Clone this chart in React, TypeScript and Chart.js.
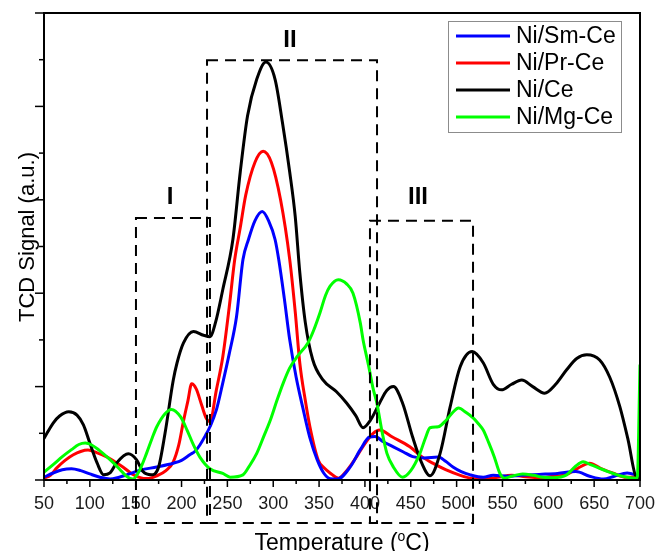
import React, { useEffect, useRef } from "react";
import { Chart, registerables } from "chart.js";

Chart.register(...registerables);

// ---------- data (temperature °C, TCD signal a.u.) ----------
const smT = [50, 60, 70, 80, 90, 100, 111, 122, 132, 140, 155, 173, 191, 200, 209, 215, 220, 226, 231, 238, 245, 252, 260, 267, 273, 280, 288, 295, 302, 306, 312, 318, 325, 332, 340, 348, 355, 362, 370, 384, 395, 405, 411, 420, 431, 442, 452, 465, 480, 488, 496, 505, 515, 529, 540, 555, 570, 590, 610, 630, 645, 660, 672, 686, 700];
const smV = [0.06, 0.15, 0.22, 0.24, 0.2, 0.13, 0.06, 0.02, 0.06, 0.11, 0.21, 0.28, 0.36, 0.42, 0.54, 0.62, 0.75, 0.95, 1.14, 1.5, 2.08, 2.7, 3.5, 4.72, 5.15, 5.55, 5.75, 5.55, 5.15, 4.72, 3.9, 3.0, 2.2, 1.57, 0.9, 0.43, 0.15, 0.03, 0.02, 0.28, 0.65, 0.92, 0.93, 0.82, 0.71, 0.6, 0.5, 0.47, 0.49, 0.4, 0.28, 0.18, 0.11, 0.06, 0.1, 0.08, 0.1, 0.12, 0.14, 0.18, 0.08, 0.02, 0.08, 0.15, 0.08];

const prT = [50, 57, 64, 73, 82, 90, 98, 108, 119, 128, 136, 146, 155, 162, 173, 183, 191, 197, 202, 207, 211, 216, 222, 227, 231, 238, 245, 252, 258, 264, 270, 280, 289, 298, 308, 318, 324, 329, 335, 340, 349, 356, 362, 371, 381, 391, 400, 409, 416, 430, 449, 462, 474, 488, 504, 518, 530, 545, 560, 575, 590, 605, 620, 632, 645, 657, 670, 685, 700];
const prV = [0.04, 0.1, 0.26, 0.42, 0.54, 0.61, 0.64, 0.58, 0.49, 0.38, 0.28, 0.13, 0.05, 0.03, 0.09, 0.2, 0.39, 0.75, 1.25, 1.7, 2.06, 1.95, 1.6, 1.32, 1.25, 1.93, 2.64, 3.7, 4.72, 5.4, 6.1, 6.8, 7.04, 6.8, 6.0, 4.72, 3.6, 2.5, 1.7, 1.14, 0.43, 0.25, 0.15, 0.04, 0.22, 0.5, 0.78, 1.0, 1.07, 0.92, 0.71, 0.5, 0.36, 0.22, 0.1, 0.03, 0.02, 0.06, 0.1, 0.07, 0.05, 0.08, 0.12, 0.25, 0.36, 0.25, 0.15, 0.06, 0.08];

const ceT = [50, 60, 67, 77, 86, 93, 100, 108, 115, 122, 129, 142, 151, 158, 167, 175, 182, 191, 195, 202, 213, 224, 231, 237, 245, 256, 264, 272, 282, 292, 302, 310, 318, 324, 329, 335, 343, 354, 369, 380, 390, 398, 406, 416, 424, 431, 441, 452, 462, 471, 482, 493, 504, 517, 529, 540, 549, 560, 571, 583, 596, 608, 620, 631, 642, 656, 667, 678, 687, 696, 700];
const ceV = [0.89, 1.22, 1.37, 1.46, 1.39, 1.18, 0.79, 0.36, 0.11, 0.15, 0.36, 0.56, 0.43, 0.18, 0.11, 0.28, 1.0, 2.14, 2.5, 2.93, 3.18, 3.1, 3.07, 3.37, 4.08, 5.15, 6.59, 7.8, 8.58, 8.95, 8.58, 7.66, 6.59, 5.64, 4.44, 3.37, 2.58, 2.15, 1.89, 1.65, 1.38, 1.12, 1.28, 1.65, 1.92, 2.0, 1.65, 0.92, 0.36, 0.09, 0.57, 1.57, 2.43, 2.75, 2.51, 2.05, 1.93, 2.05, 2.14, 2.0, 1.86, 2.05, 2.36, 2.6, 2.68, 2.57, 2.2, 1.57, 0.86, 0.06, 0.04];

const mgT = [50, 60, 70, 80, 88, 95, 102, 110, 119, 126, 133, 140, 147, 154, 162, 168, 173, 182, 189, 199, 206, 213, 220, 231, 245, 253, 267, 274, 282, 290, 297, 304, 311, 318, 326, 338, 344, 351, 357, 362, 371, 380, 387, 395, 398, 404, 409, 413, 419, 424, 431, 441, 450, 460, 466, 471, 480, 489, 496, 502, 510, 518, 524, 529, 535, 541, 547, 552, 560, 572, 584, 594, 605, 620, 630, 638, 646, 656, 665, 675, 686, 697, 700];
const mgV = [0.17, 0.33, 0.5, 0.65, 0.76, 0.79, 0.75, 0.64, 0.49, 0.36, 0.22, 0.08, 0.02, 0.2, 0.58, 0.9, 1.14, 1.42, 1.51, 1.35, 1.07, 0.75, 0.49, 0.24, 0.14, 0.06, 0.11, 0.3, 0.57, 0.95, 1.29, 1.7, 2.08, 2.4, 2.64, 2.94, 3.2, 3.58, 3.95, 4.15, 4.29, 4.2, 4.0, 3.36, 3.0, 2.45, 1.95, 1.65, 1.0, 0.57, 0.28, 0.06, 0.2, 0.57, 0.9, 1.12, 1.14, 1.29, 1.45, 1.54, 1.45, 1.33, 1.2, 1.07, 0.8, 0.5, 0.15, 0.04, 0.08, 0.13, 0.1, 0.06, 0.05, 0.11, 0.3, 0.39, 0.33, 0.25, 0.18, 0.11, 0.06, 0.04, 2.47];

const seriesNames = ["Ni/Sm-Ce", "Ni/Pr-Ce", "Ni/Ce", "Ni/Mg-Ce"];
const seriesColors = ["#0000ff", "#ff0000", "#000000", "#00ff00"];

// reduction regions (dashed boxes)
const regionLabels = ["I", "II", "III"];
const regionStartT = [150.3, 227.8, 405.5];
const regionEndT = [231.0, 413.2, 517.9];
const regionTopV = [5.61, 8.99, 5.55];
const regionBottomV = -0.92;
const regionLabelT = [187.4, 318.3, 457.9];
const regionLabelV = [6.06, 9.42, 6.06];

// axes
const X_MIN = 50;
const X_MAX = 700;
const X_MAJOR = 50;
const X_MINOR = 25;
const Y_MIN = 0;
const Y_MAX = 10;

const FONT = '"Liberation Sans", Arial, Helvetica, sans-serif';

const toPts = (t: number[], v: number[]) => t.map((x, i) => ({ x, y: v[i] }));

const decorPlugin = {
  id: "decor",
  afterDraw(chart: any) {
    const { ctx, chartArea: a, scales } = chart;
    const xs = scales.x;
    const ys = scales.y;
    ctx.save();
    ctx.setLineDash([]);
    ctx.strokeStyle = "#000";

    // frame
    ctx.lineWidth = 2;
    ctx.strokeRect(a.left, a.top, a.right - a.left, a.bottom - a.top);

    // x tick marks
    ctx.lineWidth = 1.5;
    for (let v = X_MIN; v <= X_MAX; v += X_MINOR) {
      const px = xs.getPixelForValue(v);
      const major = (v - X_MIN) % X_MAJOR === 0;
      ctx.beginPath();
      ctx.moveTo(px, a.bottom);
      ctx.lineTo(px, a.bottom + (major ? 7 : 4));
      ctx.stroke();
    }
    // y tick marks
    for (let v = Y_MIN; v <= Y_MAX; v += 1) {
      const py = ys.getPixelForValue(v);
      const major = v % 2 === 0;
      ctx.beginPath();
      ctx.moveTo(a.left, py);
      ctx.lineTo(a.left - (major ? 9 : 5), py);
      ctx.stroke();
    }

    // dashed region boxes
    ctx.lineWidth = 2;
    ctx.setLineDash([11, 7]);
    ctx.strokeStyle = "#000";
    for (let i = 0; i < regionLabels.length; i++) {
      const l = xs.getPixelForValue(regionStartT[i]);
      const r = xs.getPixelForValue(regionEndT[i]);
      const t = ys.getPixelForValue(regionTopV[i]);
      const b = ys.getPixelForValue(regionBottomV);
      ctx.strokeRect(l, t, r - l, b - t);
    }
    ctx.setLineDash([]);

    // region labels
    ctx.fillStyle = "#000";
    ctx.font = `bold 24px ${FONT}`;
    ctx.textAlign = "center";
    ctx.textBaseline = "middle";
    for (let i = 0; i < regionLabels.length; i++) {
      ctx.fillText(regionLabels[i], xs.getPixelForValue(regionLabelT[i]), ys.getPixelForValue(regionLabelV[i]));
    }

    // legend
    const lx = 448, ly = 21, lw = 173, lh = 111;
    ctx.fillStyle = "#fff";
    ctx.fillRect(lx, ly, lw, lh);
    ctx.strokeStyle = "#8c8c8c";
    ctx.lineWidth = 1;
    ctx.strokeRect(lx + 0.5, ly + 0.5, lw, lh);
    ctx.font = `23px ${FONT}`;
    ctx.textAlign = "left";
    ctx.textBaseline = "middle";
    for (let i = 0; i < seriesNames.length; i++) {
      const yy = 36 + i * 27;
      ctx.strokeStyle = seriesColors[i];
      ctx.lineWidth = 3;
      ctx.beginPath();
      ctx.moveTo(456, yy);
      ctx.lineTo(510, yy);
      ctx.stroke();
      ctx.fillStyle = "#000";
      ctx.fillText(seriesNames[i], 516, yy + 1);
    }

    // x title with superscript
    ctx.fillStyle = "#000";
    ctx.textBaseline = "alphabetic";
    ctx.textAlign = "left";
    const big = `23px ${FONT}`;
    const small = `14px ${FONT}`;
    const p1 = "Temperature (";
    const p2 = "o";
    const p3 = "C)";
    ctx.font = big;
    const w1 = ctx.measureText(p1).width;
    const w3 = ctx.measureText(p3).width;
    ctx.font = small;
    const w2 = ctx.measureText(p2).width;
    const total = w1 + w2 + w3;
    const cx = (a.left + a.right) / 2;
    const x0 = cx - total / 2;
    const base = 550;
    ctx.font = big;
    ctx.fillText(p1, x0, base);
    ctx.font = small;
    ctx.fillText(p2, x0 + w1, base - 9);
    ctx.font = big;
    ctx.fillText(p3, x0 + w1 + w2, base);

    // y title
    ctx.save();
    ctx.translate(34, 237);
    ctx.rotate(-Math.PI / 2);
    ctx.font = `22px ${FONT}`;
    ctx.textAlign = "center";
    ctx.fillText("TCD Signal (a.u.)", 0, 0);
    ctx.restore();

    ctx.restore();
  },
};

export default function App() {
  const canvasRef = useRef<HTMLCanvasElement | null>(null);

  useEffect(() => {
    document.body.style.margin = "0";
    const canvas = canvasRef.current;
    if (!canvas) return;
    const datasets = [
      { label: seriesNames[3], data: toPts(mgT, mgV), borderColor: seriesColors[3] },
      { label: seriesNames[2], data: toPts(ceT, ceV), borderColor: seriesColors[2] },
      { label: seriesNames[0], data: toPts(smT, smV), borderColor: seriesColors[0] },
      { label: seriesNames[1], data: toPts(prT, prV), borderColor: seriesColors[1] },
    ].map((d) => ({
      ...d,
      borderWidth: 3,
      pointRadius: 0,
      fill: false,
      tension: 0.4,
      cubicInterpolationMode: "monotone" as const,
    }));

    const chart = new Chart(canvas, {
      type: "line",
      data: { datasets },
      options: {
        responsive: false,
        animation: false,
        devicePixelRatio: 1,
        layout: { padding: { left: 44, right: 17, top: 13, bottom: 0 } },
        plugins: {
          legend: { display: false },
          tooltip: { enabled: false },
          title: { display: false },
        },
        scales: {
          x: {
            type: "linear",
            min: X_MIN,
            max: X_MAX,
            grid: { display: false, drawTicks: false },
            border: { display: false },
            ticks: {
              stepSize: X_MAJOR,
              padding: 13,
              color: "#1a1a1a",
              font: { family: FONT, size: 18 },
              maxRotation: 0,
              autoSkip: false,
            },
            afterFit: (s: any) => {
              s.height = 71;
              s.paddingLeft = 0;
              s.paddingRight = 0;
            },
          },
          y: {
            type: "linear",
            min: Y_MIN,
            max: Y_MAX,
            display: false,
          },
        },
      },
      plugins: [decorPlugin],
    });
    return () => chart.destroy();
  }, []);

  return (
    <div style={{ position: "fixed", left: 0, top: 0, width: 657, height: 551 }}>
      <canvas ref={canvasRef} width={657} height={551} />
    </div>
  );
}
